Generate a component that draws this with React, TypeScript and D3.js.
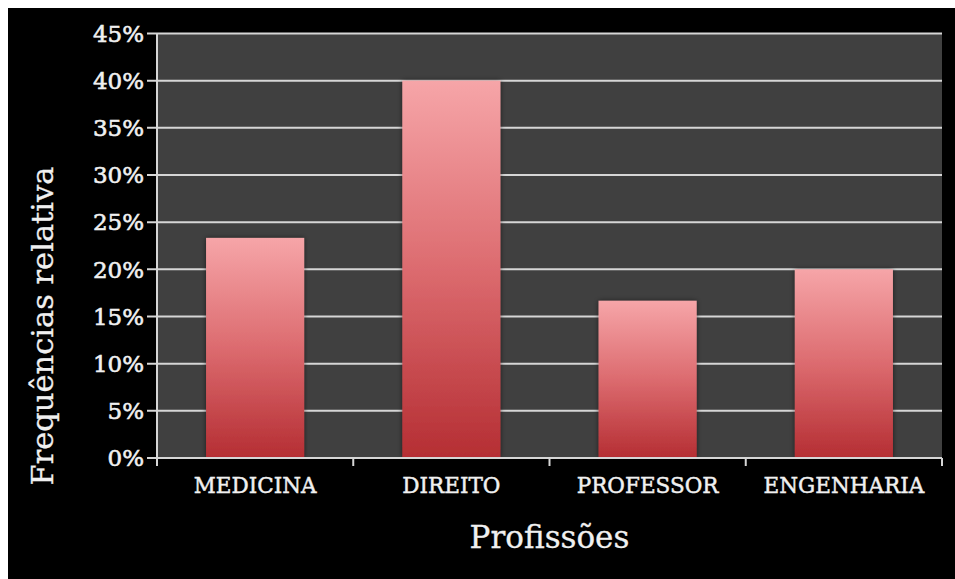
import React from "react";
import * as d3 from "d3";

const categories: string[] = ["MEDICINA", "DIREITO", "PROFESSOR", "ENGENHARIA"];
const values: number[] = [0.2333, 0.4, 0.1667, 0.2];
const yTicks: number[] = [0, 0.05, 0.1, 0.15, 0.2, 0.25, 0.3, 0.35, 0.4, 0.45];
const xTitle = "Profissões";
const yTitle = "Frequências relativa";

const W = 947;
const H = 571;
const FONT = "'DejaVu Serif', 'Liberation Serif', serif";

export default function App() {
  const left = 149;
  const right = 934;
  const top = 25.5;
  const bottom = 450;

  const x = d3.scaleBand<string>().domain(categories).range([left, right]).paddingInner(0.5).paddingOuter(0.25);
  const xb = d3.scaleBand<string>().domain(categories).range([left, right]);
  const y = d3.scaleLinear().domain([0, 0.45]).range([bottom, top]);
  const fmt = d3.format(".0%");

  const bounds = [left, ...categories.map((c) => (xb(c) as number) + xb.bandwidth())];

  const txt = { fill: "#f0f0f0", stroke: "#f0f0f0", fontFamily: FONT } as const;

  return (
    <div style={{ position: "fixed", left: 8, top: 8, right: 0, bottom: 0, background: "#000", overflow: "hidden" }}>
      <svg width={W} height={H} style={{ display: "block", background: "#000" }}>
        <defs>
          <linearGradient id="barGrad" x1="0" y1="0" x2="0" y2="1">
            <stop offset="0%" stopColor="#f6a5a8" />
            <stop offset="50%" stopColor="#dc6b6f" />
            <stop offset="100%" stopColor="#b52e33" />
          </linearGradient>
          <filter id="shadow" x="-10%" y="-10%" width="120%" height="120%">
            <feDropShadow dx="0" dy="0" stdDeviation="2.5" floodColor="#000" floodOpacity="0.55" />
          </filter>
        </defs>
        <rect x={0} y={0} width={W} height={H} fill="#000" />
        <rect x={left} y={top} width={right - left} height={bottom - top} fill="#404040" />
        {yTicks.map((t) => (
          <g key={t}>
            <line x1={left - 10} x2={right} y1={y(t)} y2={y(t)} stroke="#d6d6d6" strokeWidth={2} />
            <text
              x={left - 13}
              y={y(t)}
              dy="0.36em"
              textAnchor="end"
              {...txt}
              strokeWidth={0.6}
              fontSize={23}
            >
              {fmt(t)}
            </text>
          </g>
        ))}
        {categories.map((c, i) => (
          <rect
            key={c}
            x={x(c)}
            y={y(values[i])}
            width={x.bandwidth()}
            height={bottom - y(values[i])}
            fill="url(#barGrad)"
            filter="url(#shadow)"
          />
        ))}
        <line x1={left} x2={left} y1={top} y2={bottom} stroke="#d6d6d6" strokeWidth={2} />
        <line x1={left} x2={right} y1={bottom} y2={bottom} stroke="#d6d6d6" strokeWidth={2} />
        {bounds.map((b, i) => (
          <line key={i} x1={b} x2={b} y1={bottom} y2={bottom + 8} stroke="#d6d6d6" strokeWidth={2} />
        ))}
        {categories.map((c) => (
          <text
            key={c}
            x={(xb(c) as number) + xb.bandwidth() / 2}
            y={485}
            textAnchor="middle"
            {...txt}
            strokeWidth={0.45}
            fontSize={21.5}
          >
            {c}
          </text>
        ))}
        <text
          x={(left + right) / 2}
          y={540}
          textAnchor="middle"
          {...txt}
          strokeWidth={0.3}
          fontSize={31}
        >
          {xTitle}
        </text>
        <text
          transform={`translate(45, ${318}) rotate(-90)`}
          textAnchor="middle"
          {...txt}
          strokeWidth={0.3}
          fontSize={30.5}
        >
          {yTitle}
        </text>
      </svg>
    </div>
  );
}
